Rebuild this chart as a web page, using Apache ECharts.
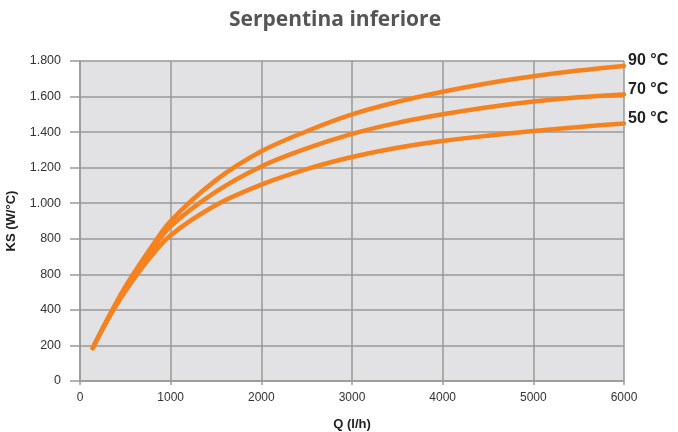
<!DOCTYPE html>
<html>
<head>
<meta charset="utf-8">
<script src="https://cdn.jsdelivr.net/npm/echarts@6/dist/echarts.min.js"></script>
<style>html,body{margin:0;padding:0;background:#fff}#c{width:678px;height:432px}</style>
</head>
<body>
<div id="c"></div>
<script>
const qValues = [140, 300, 500, 750, 1000, 1500, 2000, 2500, 3000, 3500, 4000, 4500, 5000, 5500, 6000];
const ks90 = [185, 345, 530, 725, 900, 1130, 1292, 1405, 1500, 1570, 1627, 1675, 1714, 1746, 1772];
const ks70 = [185, 343, 522, 708, 870, 1065, 1207, 1308, 1390, 1452, 1500, 1540, 1572, 1596, 1612];
const ks50 = [185, 340, 505, 680, 820, 990, 1105, 1192, 1260, 1312, 1350, 1380, 1406, 1429, 1449];
const seriesNames = ['90 °C', '70 °C', '50 °C'];
const yTickLabels = ['0', '200', '400', '800', '800', '1.000', '1.200', '1.400', '1.600', '1.800'];
const xTickLabels = ['0', '1000', '2000', '3000', '4000', '5000', '6000'];

const chart = echarts.init(document.getElementById('c'));
const lineColor = '#f5821f';
function mk(name, vals) {
  return {
    type: 'line', name: name, smooth: 0.35, symbol: 'none',
    data: qValues.map((q, i) => [q, vals[i]]),
    lineStyle: { color: lineColor, width: 4.5, cap: 'round' },
    endLabel: { show: true, formatter: name, color: '#222', fontSize: 16, fontWeight: 'bold',
      fontFamily: 'Liberation Sans, Arial', distance: 4, offset: [0, -5] },
    z: 5
  };
}
chart.setOption({
  animation: false,
  title: { text: 'Serpentina inferiore', left: 330, top: 5, textAlign: 'center',
    textStyle: { fontFamily: 'Open Sans', fontWeight: 'bold', fontSize: 21, color: '#555' } },
  grid: { left: 80, right: 54, top: 61, bottom: 51, show: true, backgroundColor: '#e2e2e4', borderWidth: 0,
    containLabel: false, outerBoundsMode: 'none' },
  xAxis: {
    type: 'value', min: 0, max: 6000, interval: 1000,
    name: 'Q (l/h)', nameLocation: 'middle', nameGap: 37, nameMoveOverlap: false,
    nameTextStyle: { fontFamily: 'Liberation Sans, Arial', fontWeight: 'bold', fontSize: 13, color: '#222' },
    axisLine: { show: true, lineStyle: { color: '#999', width: 1.5 } },
    axisTick: { show: true, length: 4, lineStyle: { color: '#999', width: 1.5 } },
    splitLine: { show: true, lineStyle: { color: '#999', width: 1.5 } },
    axisLabel: { margin: 11, fontFamily: 'Liberation Sans, Arial', fontSize: 12, color: '#333',
      formatter: (v) => xTickLabels[Math.round(v / 1000)] }
  },
  yAxis: {
    type: 'value', min: 0, max: 1800, interval: 200,
    name: 'KS (W/°C)', nameLocation: 'middle', nameGap: 62, nameRotate: 90, nameMoveOverlap: false,
    nameTextStyle: { fontFamily: 'Liberation Sans, Arial', fontWeight: 'bold', fontSize: 13, color: '#222' },
    axisLine: { show: true, lineStyle: { color: '#999', width: 1.5 } },
    axisTick: { show: true, length: 10, lineStyle: { color: '#999', width: 1.5 } },
    splitLine: { show: true, lineStyle: { color: '#999', width: 1.5 } },
    axisLabel: { margin: 19, fontFamily: 'Liberation Sans, Arial', fontSize: 12.5, color: '#333',
      formatter: (v) => yTickLabels[Math.round(v / 200)] }
  },
  series: [mk(seriesNames[0], ks90), mk(seriesNames[1], ks70), mk(seriesNames[2], ks50)]
});
</script>
</body>
</html>
